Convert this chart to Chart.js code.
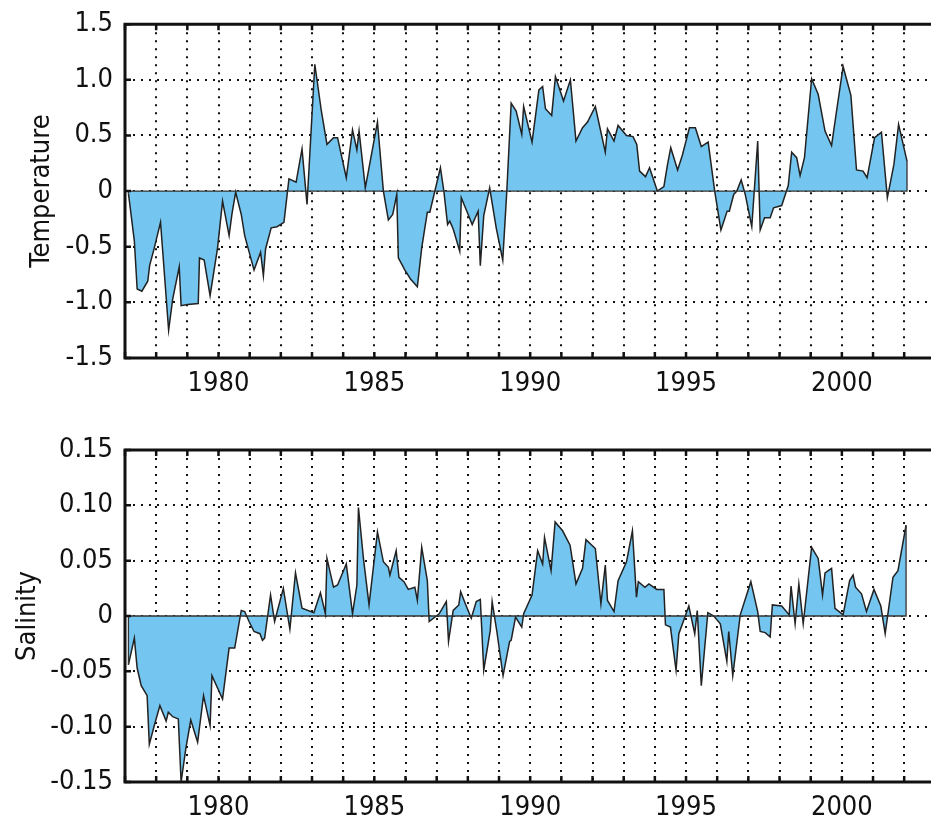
<!DOCTYPE html>
<html>
<head>
<meta charset="utf-8">
<script src="https://cdn.jsdelivr.net/npm/chart.js@4.4.1/dist/chart.umd.min.js"></script>
<style>
  html, body { margin: 0; padding: 0; background: #fff; overflow: hidden; }
  #wrap_temp { position: absolute; left: 0; top: -4px; width: 931px; height: 404px; }
  #wrap_sal { position: absolute; left: 0; top: 400px; width: 931px; height: 434px; }
</style>
</head>
<body>
<div id="wrap_temp"><canvas id="temperatura"></canvas></div>
<div id="wrap_sal"><canvas id="salinidade"></canvas></div>
<script>

// --- data (decimal years) ---
var anos_temp = [
    1977.11, 1977.30, 1977.39, 1977.54, 1977.73, 1977.79, 1977.94, 1978.14, 1978.40, 1978.53,
    1978.74, 1978.80, 1979.01, 1979.35, 1979.39, 1979.54, 1979.73, 1979.97, 1980.13, 1980.34,
    1980.43, 1980.55, 1980.73, 1980.84, 1981.14, 1981.35, 1981.44, 1981.51, 1981.69, 1981.88,
    1982.10, 1982.26, 1982.49, 1982.68, 1982.84, 1983.09, 1983.30, 1983.48, 1983.69, 1983.82,
    1984.10, 1984.30, 1984.44, 1984.51, 1984.71, 1985.10, 1985.29, 1985.45, 1985.59, 1985.72,
    1985.77, 1985.98, 1986.16, 1986.38, 1986.52, 1986.70, 1986.78, 1987.12, 1987.23, 1987.35,
    1987.42, 1987.53, 1987.74, 1987.79, 1988.01, 1988.14, 1988.33, 1988.40, 1988.51, 1988.70,
    1988.91, 1989.12, 1989.25, 1989.39, 1989.55, 1989.73, 1989.79, 1990.06, 1990.28, 1990.40,
    1990.49, 1990.69, 1990.81, 1991.07, 1991.29, 1991.47, 1991.68, 1991.84, 1992.09, 1992.41,
    1992.48, 1992.69, 1992.82, 1993.09, 1993.30, 1993.42, 1993.51, 1993.70, 1993.83, 1994.08,
    1994.29, 1994.40, 1994.51, 1994.73, 1994.88, 1995.11, 1995.30, 1995.49, 1995.71, 1995.92,
    1996.12, 1996.32, 1996.39, 1996.53, 1996.63, 1996.77, 1996.90, 1997.11, 1997.30, 1997.38,
    1997.52, 1997.70, 1997.81, 1998.07, 1998.28, 1998.39, 1998.55, 1998.66, 1998.80, 1999.03,
    1999.24, 1999.46, 1999.67, 1999.83, 2000.04, 2000.29, 2000.47, 2000.68, 2000.81, 2001.05,
    2001.27, 2001.46, 2001.67, 2001.82, 2002.09
];
var temperatura = [
    -0.02, -0.45, -0.88, -0.90, -0.81, -0.67, -0.51, -0.28, -1.25, -0.97,
    -0.68, -1.03, -1.02, -1.01, -0.60, -0.62, -0.94, -0.51, -0.09, -0.40,
    -0.21, -0.01, -0.21, -0.40, -0.71, -0.55, -0.76, -0.52, -0.33, -0.32,
    -0.28, 0.11, 0.08, 0.38, -0.12, 1.14, 0.72, 0.42, 0.48, 0.48,
    0.12, 0.55, 0.37, 0.54, 0.03, 0.62, 0.00, -0.26, -0.21, -0.03,
    -0.60, -0.71, -0.79, -0.86, -0.51, -0.19, -0.19, 0.21, 0.00, -0.30,
    -0.27, -0.34, -0.54, -0.06, -0.21, -0.30, -0.18, -0.67, -0.22, 0.03,
    -0.33, -0.62, 0.00, 0.79, 0.72, 0.51, 0.76, 0.44, 0.91, 0.94,
    0.74, 0.68, 1.03, 0.81, 1.00, 0.45, 0.57, 0.62, 0.76, 0.35,
    0.56, 0.45, 0.59, 0.50, 0.49, 0.42, 0.18, 0.13, 0.21, 0.00,
    0.04, 0.23, 0.39, 0.19, 0.32, 0.57, 0.57, 0.40, 0.44, 0.00,
    -0.35, -0.18, -0.18, -0.03, 0.00, 0.10, -0.03, -0.32, 0.45, -0.35,
    -0.24, -0.24, -0.15, -0.13, 0.05, 0.35, 0.30, 0.14, 0.30, 1.01,
    0.87, 0.54, 0.41, 0.72, 1.12, 0.86, 0.19, 0.18, 0.12, 0.48,
    0.53, -0.06, 0.24, 0.60, 0.27
];

var anos_sal = [
    1977.11, 1977.30, 1977.39, 1977.52, 1977.71, 1977.78, 1977.94, 1978.12, 1978.32, 1978.39,
    1978.53, 1978.71, 1978.80, 1978.95, 1979.11, 1979.33, 1979.52, 1979.73, 1979.79, 1980.13,
    1980.34, 1980.52, 1980.73, 1980.84, 1980.98, 1981.14, 1981.33, 1981.41, 1981.48, 1981.67,
    1981.80, 1982.08, 1982.29, 1982.47, 1982.68, 1983.06, 1983.27, 1983.43, 1983.48, 1983.69,
    1983.82, 1984.10, 1984.30, 1984.44, 1984.49, 1984.65, 1984.83, 1985.10, 1985.29, 1985.45,
    1985.50, 1985.70, 1985.79, 1985.95, 1986.09, 1986.30, 1986.38, 1986.52, 1986.70, 1986.76,
    1987.08, 1987.31, 1987.38, 1987.53, 1987.71, 1987.77, 1987.92, 1988.11, 1988.27, 1988.40,
    1988.51, 1988.72, 1988.78, 1988.93, 1989.13, 1989.34, 1989.39, 1989.53, 1989.73, 1989.79,
    1990.06, 1990.24, 1990.40, 1990.46, 1990.67, 1990.80, 1991.04, 1991.28, 1991.47, 1991.68,
    1991.79, 1992.09, 1992.27, 1992.41, 1992.48, 1992.69, 1992.82, 1993.09, 1993.28, 1993.41,
    1993.47, 1993.68, 1993.81, 1994.06, 1994.29, 1994.34, 1994.50, 1994.68, 1994.77, 1994.95,
    1995.09, 1995.28, 1995.36, 1995.49, 1995.70, 1995.89, 1996.10, 1996.31, 1996.37, 1996.50,
    1996.74, 1997.08, 1997.30, 1997.38, 1997.54, 1997.70, 1997.77, 1998.07, 1998.31, 1998.37,
    1998.50, 1998.62, 1998.76, 1999.03, 1999.24, 1999.38, 1999.46, 1999.67, 1999.78, 2000.04,
    2000.25, 2000.36, 2000.44, 2000.63, 2000.79, 2001.03, 2001.25, 2001.39, 2001.64, 2001.80,
    2002.06
];
var salinidade = [
    -0.044, -0.020, -0.047, -0.063, -0.072, -0.116, -0.099, -0.081, -0.095, -0.087,
    -0.091, -0.093, -0.150, -0.120, -0.094, -0.114, -0.072, -0.099, -0.054, -0.075,
    -0.029, -0.029, 0.005, 0.004, -0.005, -0.014, -0.016, -0.022, -0.020, 0.019,
    -0.005, 0.025, -0.012, 0.039, 0.007, 0.003, 0.021, 0.002, 0.052, 0.026,
    0.028, 0.047, 0.002, 0.028, 0.098, 0.052, 0.010, 0.076, 0.049, 0.044,
    0.037, 0.059, 0.035, 0.031, 0.024, 0.026, 0.014, 0.062, 0.032, -0.005,
    0.002, 0.013, -0.023, 0.005, 0.010, 0.022, 0.011, -0.002, 0.013, 0.015,
    -0.049, -0.013, 0.013, -0.014, -0.054, -0.023, -0.022, -0.001, -0.010, 0.002,
    0.019, 0.059, 0.047, 0.071, 0.041, 0.085, 0.077, 0.064, 0.029, 0.043,
    0.069, 0.061, 0.011, 0.046, 0.014, 0.004, 0.032, 0.049, 0.077, 0.017,
    0.031, 0.026, 0.029, 0.024, 0.024, -0.008, -0.010, -0.049, -0.016, -0.002,
    0.009, -0.016, 0.005, -0.063, 0.003, 0.000, -0.007, -0.041, -0.014, -0.054,
    0.001, 0.031, 0.004, -0.014, -0.015, -0.019, 0.010, 0.009, 0.001, 0.027,
    -0.007, 0.029, -0.007, 0.062, 0.052, 0.019, 0.039, 0.043, 0.007, 0.001,
    0.032, 0.037, 0.026, 0.020, 0.004, 0.024, 0.009, -0.016, 0.035, 0.041,
    0.082
];

var marcas_anos = [1980, 1985, 1990, 1995, 2000];
var marcas_temp = [-1.5, -1.0, -0.5, 0, 0.5, 1.0, 1.5];
var marcas_sal = [-0.15, -0.10, -0.05, 0, 0.05, 0.10, 0.15];

var fonte = '"DejaVu Sans Condensed", "Liberation Sans Narrow", "Roboto", sans-serif';

// frame, inward tick marks and the zero edge of the filled area
const moldura = {
    id: 'moldura',
    afterDatasetsDraw(chart) {
        const ctx = chart.ctx;
        const a = chart.chartArea;
        const x = chart.scales.x;
        const y = chart.scales.y;
        const pts = chart.data.datasets[0].data;
        const y0 = y.getPixelForValue(0);
        const xa = x.getPixelForValue(pts[0].x);
        const xb = x.getPixelForValue(pts[pts.length - 1].x);

        ctx.save();
        ctx.strokeStyle = '#333';
        ctx.lineWidth = 1.3;
        ctx.beginPath();
        ctx.moveTo(xa, y.getPixelForValue(pts[0].y));
        ctx.lineTo(xa, y0);
        ctx.lineTo(xb, y0);
        ctx.lineTo(xb, y.getPixelForValue(pts[pts.length - 1].y));
        ctx.stroke();

        ctx.strokeStyle = '#111';
        ctx.lineWidth = 2.5;
        ctx.beginPath();
        x.ticks.forEach(function (t) {
            const px = x.getPixelForValue(t.value);
            ctx.moveTo(px, a.bottom); ctx.lineTo(px, a.bottom - 6);
            ctx.moveTo(px, a.top); ctx.lineTo(px, a.top + 6);
        });
        y.ticks.forEach(function (t) {
            const py = y.getPixelForValue(t.value);
            ctx.moveTo(a.left, py); ctx.lineTo(a.left + 6, py);
        });
        ctx.stroke();

        ctx.lineWidth = 3;
        ctx.beginPath();
        ctx.moveTo(a.right + 3, a.top);
        ctx.lineTo(a.left, a.top);
        ctx.lineTo(a.left, a.bottom);
        ctx.lineTo(a.right + 3, a.bottom);
        ctx.stroke();
        ctx.restore();
    }
};

function montar_grafico(id, anos, valores, marcas_y, casas, titulo, topo, alturaX, padTitulo) {
    var pontos = anos.map(function (a, i) { return { x: a, y: valores[i] }; });
    return new Chart(document.getElementById(id), {
        type: 'line',
        data: {
            datasets: [{
                data: pontos,
                borderColor: '#222',
                borderWidth: 1.5,
                backgroundColor: '#74C5EF',
                fill: 'origin',
                tension: 0,
                pointRadius: 0
            }]
        },
        options: {
            responsive: true,
            maintainAspectRatio: false,
            animation: false,
            layout: { padding: { top: topo, right: 0, left: 0, bottom: 0 } },
            plugins: { legend: { display: false }, tooltip: { enabled: false } },
            scales: {
                x: {
                    type: 'linear',
                    min: 1977,
                    max: 2002.86,
                    afterFit: function (s) { s.height = alturaX; },
                    ticks: {
                        stepSize: 1,
                        includeBounds: false,
                        maxRotation: 0,
                        autoSkip: false,
                        padding: 10,
                        color: '#111',
                        font: { family: fonte, size: 27 },
                        callback: function (v) {
                            return marcas_anos.indexOf(v) >= 0 ? String(v) : '';
                        }
                    },
                    grid: { color: '#111', lineWidth: 2, drawTicks: false },
                    border: { display: false, dash: [2, 6] }
                },
                y: {
                    min: marcas_y[0],
                    max: marcas_y[marcas_y.length - 1],
                    afterFit: function (s) { s.width = 125; },
                    afterBuildTicks: function (s) {
                        s.ticks = marcas_y.map(function (v) { return { value: v }; });
                    },
                    ticks: {
                        padding: 12,
                        color: '#111',
                        font: { family: fonte, size: 27 },
                        callback: function (v) { return v === 0 ? '0' : v.toFixed(casas); }
                    },
                    grid: { color: '#111', lineWidth: 2, drawTicks: false },
                    border: { display: false, dash: [2, 6] },
                    title: {
                        display: true,
                        text: titulo,
                        color: '#111',
                        font: { family: fonte, size: 27 },
                        padding: { top: padTitulo, bottom: 0 }
                    }
                }
            }
        },
        plugins: [moldura]
    });
}

var grafico_temp = montar_grafico('temperatura', anos_temp, temperatura, marcas_temp, 1, 'Temperature', 24, 42, 26);
var grafico_sal = montar_grafico('salinidade', anos_sal, salinidade, marcas_sal, 2, 'Salinity', 50, 52, 12);

</script>
</body>
</html>
